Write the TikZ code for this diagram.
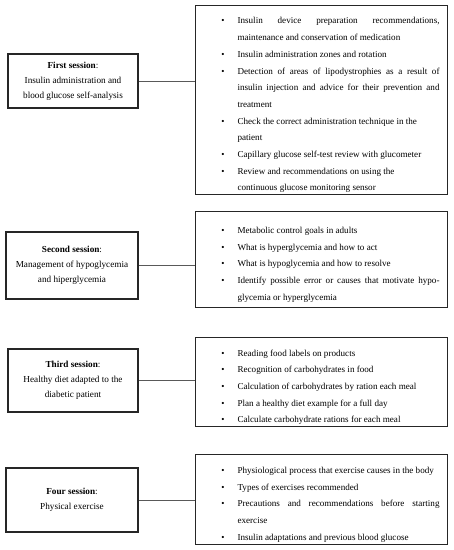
\documentclass[tikz,border=0pt]{standalone}
\usepackage{fontspec}
\setmainfont{Liberation Serif}
\usetikzlibrary{positioning}

\newcommand{\topicfont}{\fontsize{9.1}{16.7}\selectfont}
\newcommand{\sessionfont}{\fontsize{9.2}{15}\selectfont}
\newenvironment{topiclist}{\begin{list}{\textbullet}{%
  \setlength{\leftmargin}{34pt}\setlength{\labelwidth}{12pt}%
  \setlength{\labelsep}{13pt}\setlength{\itemsep}{0pt}%
  \setlength{\parsep}{0pt}\setlength{\topsep}{0pt}%
  \setlength{\partopsep}{0pt}}}{\end{list}}

\tikzset{
  session/.style={draw=black!85, line width=1.1pt, align=center, font=\sessionfont, inner sep=0pt},
  topics/.style={draw=black!85, line width=1.1pt, text width=236pt, align=justify, inner xsep=8pt, inner ysep=0pt, font=\topicfont, anchor=north west},
  link/.style={draw=black!65, line width=0.8pt},
}

\begin{document}
\begin{tikzpicture}[x=1pt,y=-1pt]
  \useasboundingbox (0,0) rectangle (454,550);
  % sessions
  \node[session, minimum width=130pt, minimum height=54pt] (s1) at (73,81)
    {\textbf{First session}:\\Insulin administration and\\blood glucose self-analysis};
  \node[session, minimum width=132pt, minimum height=67pt] (s2) at (72,265.5)
    {\textbf{Second session}:\\Management of hypoglycemia\\and hiperglycemia};
  \node[session, minimum width=130pt, minimum height=63pt] (s3) at (73,380.5)
    {\textbf{Third session}:\\Healthy diet adapted to the\\diabetic patient};
  \node[session, minimum width=132pt, minimum height=64pt] (s4) at (72,500)
    {\textbf{Four session}:\\Physical exercise};
  % contents
  \node[topics, minimum height=189pt] (t1) at (195,5) {\begin{topiclist}
    \item Insulin device preparation recommendations,\linebreak maintenance and conservation of medication
    \item Insulin administration zones and rotation
    \item Detection of areas of lipodystrophies as a result of\linebreak insulin injection and advice for their prevention and\linebreak treatment
    \item Check the correct administration technique in the\newline patient
    \item Capillary glucose self-test review with glucometer
    \item Review and recommendations on using the\newline continuous glucose monitoring sensor
  \end{topiclist}};
  \node[topics, minimum height=96pt] (t2) at (195,211) {\begin{topiclist}
    \item Metabolic control goals in adults
    \item What is hyperglycemia and how to act
    \item What is hypoglycemia and how to resolve
    \item Identify possible error or causes that motivate hypo-\linebreak glycemia or hyperglycemia
  \end{topiclist}};
  \node[topics, minimum height=89pt] (t3) at (195,337) {\begin{topiclist}
    \item Reading food labels on products
    \item Recognition of carbohydrates in food
    \item Calculation of carbohydrates by ration each meal
    \item Plan a healthy diet example for a full day
    \item Calculate carbohydrate rations for each meal
  \end{topiclist}};
  \node[topics, minimum height=90pt] (t4) at (195,454) {\begin{topiclist}
    \item Physiological process that exercise causes in the body
    \item Types of exercises recommended
    \item Precautions and recommendations before starting\linebreak exercise
    \item Insulin adaptations and previous blood glucose
  \end{topiclist}};
  % links
  \foreach \i in {1,...,4}
    \draw[link] (s\i.east) -- (s\i.east -| t\i.west);
\end{tikzpicture}
\end{document}
